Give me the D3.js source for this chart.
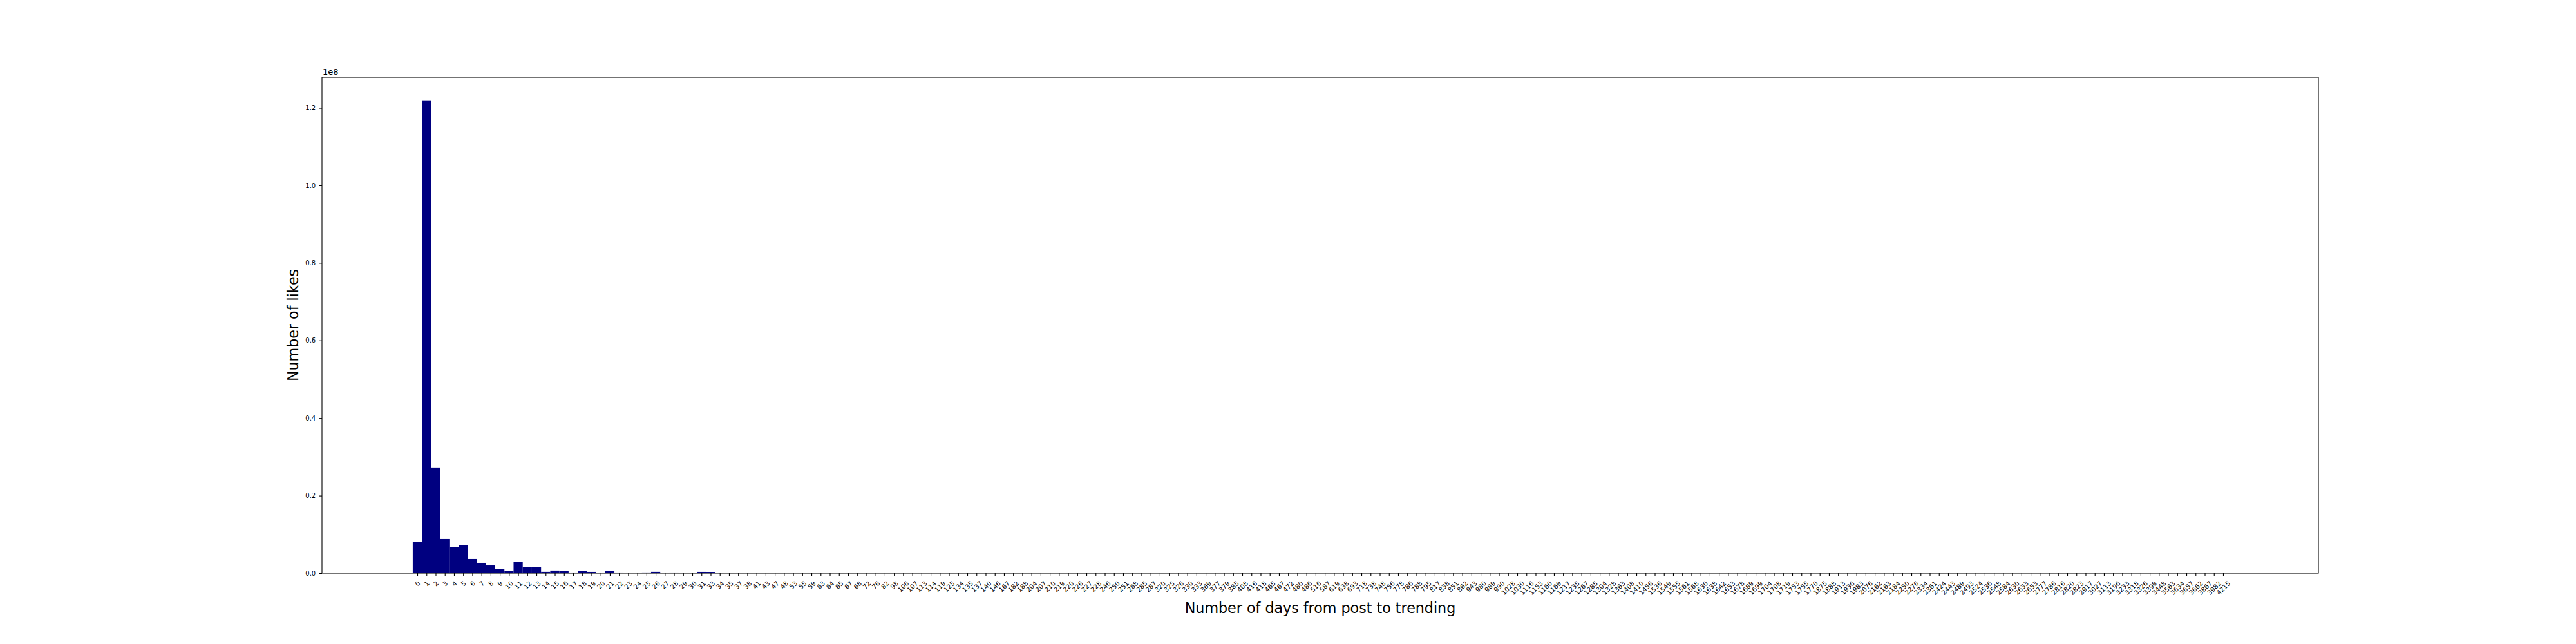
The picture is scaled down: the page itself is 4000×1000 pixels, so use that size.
<!DOCTYPE html>
<html><head><meta charset="utf-8">
<script src="https://cdn.jsdelivr.net/npm/d3@7"></script>
<style>body{margin:0;background:#fff} text{font-family:"DejaVu Sans",sans-serif;fill:#000}</style>
</head><body><svg id="c" width="4000" height="1000"></svg>
<script>
// x categories: number of days from post to trending
const categories = [0,1,2,3,4,5,6,7,8,9,10,11,12,13,14,15,16,17,18,19,20,21,22,23,24,25,26,27,28,29,30,31,
33,34,35,37,38,41,43,47,48,53,55,59,63,64,65,67,68,72,76,82,98,
106,107,113,114,119,125,134,135,137,140,146,167,182,188,204,207,210,219,220,226,227,228,246,250,251,
268,285,287,320,325,326,330,333,369,377,379,385,408,416,418,465,467,472,480,486,516,587,619,638,693,718,738,748,756,778,786,788,795,817,838,851,862,943,980,989,990,1028,1030,1116,1153,
1160,1169,1217,1235,1267,1285,1304,1328,1363,1408,1410,1456,1536,1549,1555,1561,1568,1630,1638,1642,1653,1678,1689,1699,1704,1708,1719,1753,1755,1770,
1875,1888,1913,1936,1983,2076,2162,2163,2184,2250,2276,2334,2361,2424,2443,2489,2493,2524,2536,2548,2584,2630,2633,2653,2777,2786,2816,2820,2823,
2917,3027,3113,3196,3233,3318,3326,3399,3448,3563,3634,3657,3662,3867,3982,4215];

// likes for the first 33 categories (visible bars)
const likesHead = [7980000,121800000,27260000,8810000,6810000,7150000,3660000,2660000,1990000,1160000,
500000,2830000,1650000,1530000,350000,680000,660000,170000,520000,340000,
60000,510000,170000,40000,30000,180000,350000,50000,170000,30000,40000,340000,330000];

// likes for the remaining categories (too small to see)
const likesTail = [
42000,25000,31000,18000,36000,22000,27000,15000,19000,24000,12000,28000,9000,14000,21000,
11000,17000,8000,13000,26000,10000,7000,16000,12000,9000,20000,6000,11000,14000,8000,
5000,10000,13000,7000,9000,15000,6000,8000,12000,4000,7000,10000,5000,9000,6000,
11000,4000,8000,5000,7000,3000,9000,6000,4000,8000,5000,3000,7000,4000,6000,
3000,5000,8000,4000,2000,6000,3000,7000,4000,5000,2000,6000,3000,4000,9000,
2000,5000,3000,6000,4000,2000,3000,7000,5000,2000,4000,3000,6000,2000,5000,
3000,4000,2000,8000,3000,5000,2000,4000,3000,6000,2000,3000,5000,4000,2000,
3000,2000,4000,6000,2000,3000,5000,2000,4000,3000,2000,7000,3000,2000,4000,
2000,3000,5000,2000,3000,4000,2000,6000,3000,2000,4000,3000,2000,5000,2000,
3000,4000,2000,3000,2000,5000,3000,2000,4000,2000,3000,6000,2000,3000,2000,
4000,2000,3000,5000,2000,3000,2000,4000,3000,2000,5000,2000,3000,4000,2000];

const yTicks = [0, 0.2e8, 0.4e8, 0.6e8, 0.8e8, 1.0e8, 1.2e8];
const xTitle = "Number of days from post to trending";
const yTitle = "Number of likes";

const likes = likesHead.concat(likesTail);
const data = categories.map((c, i) => ({i, label: String(c), v: likes[i]}));

const L = 500, R = 3600, T = 120, B = 890;
const n = data.length;
const margin = 0.05 * n;
const x = d3.scaleLinear().domain([-0.5 - margin, n - 0.5 + margin]).range([L, R]);
const y = d3.scaleLinear().domain([0, d3.max(likes) * 1.05]).range([B, T]);

const svg = d3.select("#c");
const tickLen = 4.9, tickPad = 4.9;

// bars
svg.append("g").selectAll("rect").data(data).join("rect")
  .attr("x", d => x(d.i - 0.5))
  .attr("width", d => x(d.i + 0.5) - x(d.i - 0.5))
  .attr("y", d => y(d.v))
  .attr("height", d => B - y(d.v))
  .attr("fill", "#000080");

// x axis
const gx = svg.append("g").attr("transform", `translate(0,${B})`)
  .call(d3.axisBottom(x).tickValues(d3.range(n)).tickFormat(i => data[i].label)
        .tickSize(tickLen).tickPadding(tickPad));
gx.select(".domain").remove();
gx.selectAll(".tick line").attr("stroke", "#000").attr("stroke-width", 1.1);
gx.selectAll(".tick text").each(function() {
  const t = d3.select(this);
  t.attr("font-size", 10).attr("font-family", "DejaVu Sans").attr("fill", "#000");
  const w = this.getComputedTextLength();
  const h = 11.7;
  const H = (w + h) * Math.SQRT1_2;
  const cy = tickLen + tickPad + H / 2;
  t.attr("y", cy).attr("dy", "0.35em").attr("text-anchor", "middle")
   .attr("transform", `rotate(-45,0,${cy})`);
});

// y axis
const gy = svg.append("g").attr("transform", `translate(${L},0)`)
  .call(d3.axisLeft(y).tickValues(yTicks).tickFormat(d => (d / 1e8).toFixed(1))
        .tickSize(tickLen).tickPadding(tickPad));
gy.select(".domain").remove();
gy.selectAll(".tick line").attr("stroke", "#000").attr("stroke-width", 1.1);
gy.selectAll(".tick text").attr("font-size", 10).attr("font-family", "DejaVu Sans").attr("fill", "#000");

// spines
svg.append("rect").attr("x", L).attr("y", T).attr("width", R - L).attr("height", B - T)
  .attr("fill", "none").attr("stroke", "#000").attr("stroke-width", 1.1);

// offset text
svg.append("text").attr("x", L + 1).attr("y", T - 4).attr("font-size", 13).text("1e8");

// axis titles
svg.append("text").attr("x", (L + R) / 2).attr("y", 952).attr("text-anchor", "middle")
  .attr("font-size", 22.2).text(xTitle);
svg.append("text").attr("transform", `translate(463,${(T + B) / 2}) rotate(-90)`)
  .attr("text-anchor", "middle").attr("font-size", 22.2).text(yTitle);
</script>
</body></html>
